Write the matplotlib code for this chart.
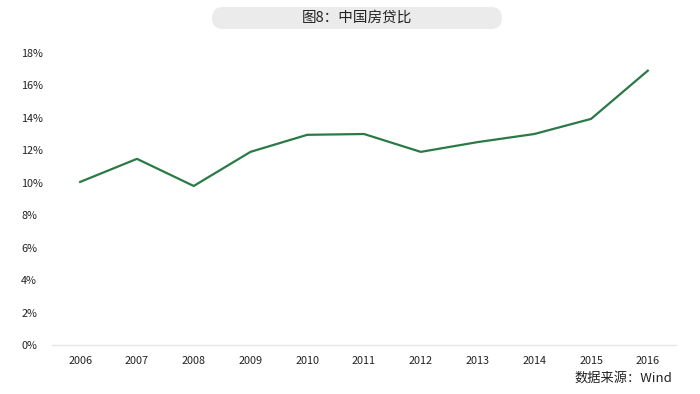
import numpy as np
import matplotlib
matplotlib.use("Agg")
from matplotlib import pyplot as plt
from matplotlib.patches import FancyBboxPatch

plt.rcParams['font.family'] = ['Noto Sans CJK SC', 'DejaVu Sans']

# 数据
years = ['2006', '2007', '2008', '2009', '2010', '2011', '2012', '2013', '2014', '2015', '2016']
ratio = [10.05, 11.47, 9.8, 11.9, 12.95, 13.0, 11.9, 12.5, 13.0, 13.93, 16.9]
y_ticks = [0, 2, 4, 6, 8, 10, 12, 14, 16, 18]

fig = plt.figure(figsize=(7, 3.94), dpi=100)

# 背景层，用像素坐标画标题框
bg = fig.add_axes([0, 0, 1, 1])
bg.set_xlim(0, 700)
bg.set_ylim(394, 0)
bg.axis('off')
box = FancyBboxPatch((212, 7), 290, 22, boxstyle='round,pad=0,rounding_size=11',
                     facecolor='#ebebeb', edgecolor='none')
bg.add_patch(box)
bg.text(357, 18, '图8：中国房贷比', ha='center', va='center', fontsize=10.5, color='#222222')
bg.text(672, 378, '数据来源：Wind', ha='right', va='center', fontsize=9.5, color='#222222')

ax = fig.add_axes([0.074, 0.124, 0.892, 0.742])
ax.patch.set_alpha(0)

x = np.arange(len(years))
ax.plot(x, ratio, color='#2a7a45', lw=1.6)

ax.set_xlim(-0.5, len(years) - 0.5)
ax.set_ylim(0, 18)
ax.set_yticks(y_ticks)
ax.set_yticklabels(['{}%'.format(v) for v in y_ticks])
ax.set_xticks(x)
ax.set_xticklabels(years)
ax.tick_params(axis='both', length=0, labelsize=7.8, colors='#222222')
ax.tick_params(axis='x', pad=8)
ax.tick_params(axis='y', pad=22)
for lab in ax.get_yticklabels():
    lab.set_horizontalalignment('left')

for s in ['top', 'right', 'left']:
    ax.spines[s].set_visible(False)
ax.spines['bottom'].set_color('#e6e6e6')
ax.spines['bottom'].set_linewidth(1.0)

fig.savefig('out.png', dpi=100, facecolor='white')
